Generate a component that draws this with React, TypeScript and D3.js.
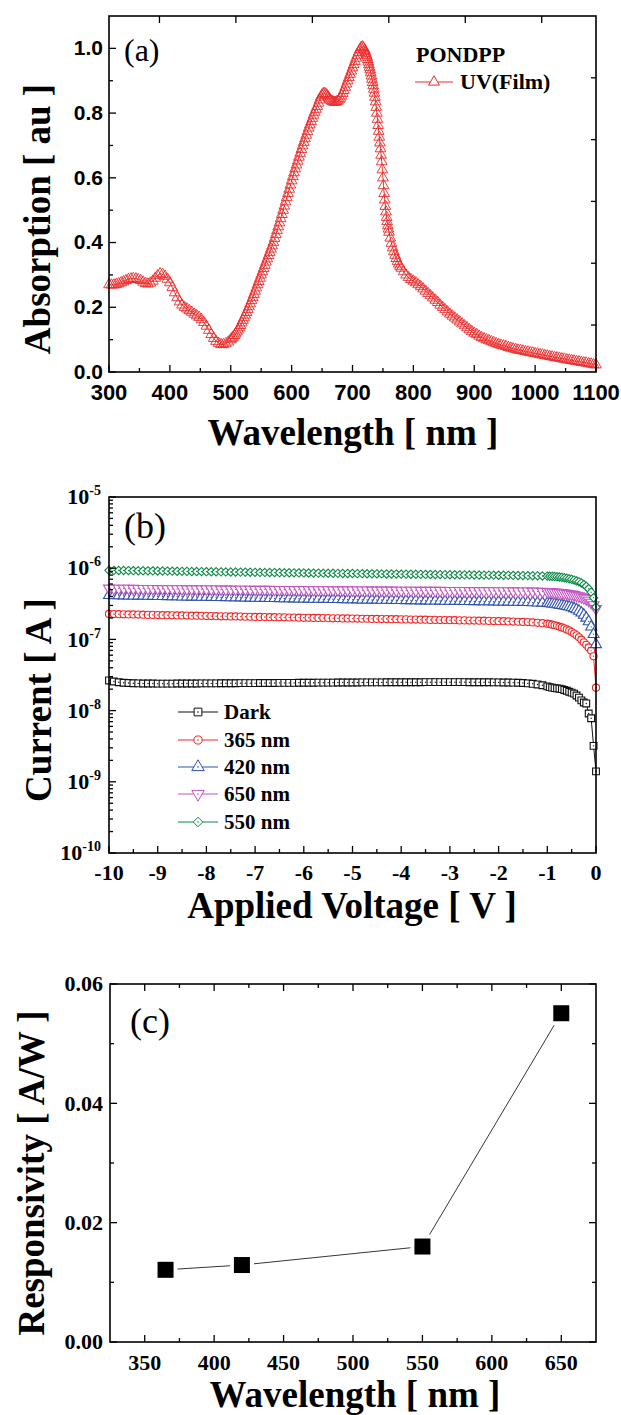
import React from 'react';
import * as d3 from 'd3';

const serif = "'Liberation Serif', 'Times New Roman', serif";
const sans = "'Liberation Sans', Arial, sans-serif";

// ---------- (a) UV absorption of the PONDPP film: [wavelength nm, absorption au]
const uvFilm: [number, number][] = [
  [300, .270], [304, .269], [308, .269], [312, .271], [316, .273], [320, .276], [324, .279], [328, .283], [332, .286], [336, .288],
  [340, .289], [344, .288], [348, .286], [352, .283], [356, .278], [360, .274], [364, .272], [368, .275], [372, .281], [376, .290],
  [380, .298], [384, .304], [388, .302], [392, .296], [396, .287], [400, .276], [404, .261], [408, .245], [412, .230], [416, .217],
  [420, .207], [424, .200], [428, .195], [432, .190], [436, .185], [440, .179], [444, .174], [448, .169], [452, .162], [456, .153],
  [460, .142], [464, .129], [468, .116], [472, .104], [476, .095], [480, .089], [484, .085], [488, .085], [492, .088], [496, .093],
  [500, .100], [502, .104], [504, .108], [506, .113], [508, .118], [510, .124], [512, .130], [514, .137], [516, .144], [518, .152],
  [520, .160], [522, .168], [524, .176], [526, .184], [528, .193], [530, .202], [532, .211], [534, .221], [536, .230], [538, .240],
  [540, .250], [542, .260], [544, .270], [546, .280], [548, .290], [550, .300], [552, .310], [554, .320], [556, .330], [558, .340],
  [560, .350], [562, .360], [564, .370], [566, .380], [568, .390], [570, .401], [572, .413], [574, .425], [576, .437], [578, .449],
  [580, .461], [582, .474], [584, .487], [586, .500], [588, .513], [590, .526], [592, .539], [594, .552], [596, .565], [598, .578],
  [600, .591], [602, .604], [604, .616], [606, .628], [608, .640], [610, .652], [612, .664], [614, .676], [616, .688], [618, .699],
  [620, .710], [622, .721], [624, .732], [626, .743], [628, .754], [630, .764], [632, .774], [634, .784], [636, .794], [638, .803],
  [640, .812], [642, .821], [644, .831], [646, .841], [648, .850], [650, .856], [652, .860], [654, .861], [656, .859], [658, .855],
  [660, .850], [662, .844], [664, .840], [666, .837], [668, .835], [670, .834], [672, .834], [674, .835], [676, .837], [678, .841],
  [680, .846], [682, .853], [684, .861], [686, .870], [688, .880], [690, .890], [692, .900], [694, .910], [696, .920], [698, .930],
  [700, .940], [702, .950], [704, .960], [706, .970], [708, .979], [710, .988], [712, .996], [714, 1.002], [716, 1.005], [718, 1.002],
  [720, .995], [721, .990], [722, .985], [723, .979], [724, .973], [725, .966], [726, .958], [727, .950], [728, .942], [729, .934],
  [730, .925], [731, .915], [732, .905], [733, .895], [734, .885], [735, .874], [736, .862], [737, .849], [738, .835], [739, .818],
  [740, .800], [741, .781], [742, .762], [743, .744], [744, .726], [745, .708], [746, .690], [747, .670], [748, .650], [749, .625],
  [750, .600], [751, .576], [752, .552], [753, .532], [754, .512], [755, .495], [756, .478], [757, .465], [758, .452], [759, .442],
  [760, .432], [762, .414], [764, .398], [766, .384], [768, .372], [770, .361], [772, .351], [774, .342], [776, .334], [778, .327],
  [780, .321], [784, .310], [788, .300], [792, .292], [796, .286], [800, .281], [804, .276], [808, .270], [812, .264], [816, .257],
  [820, .250], [824, .243], [828, .236], [832, .229], [836, .222], [840, .215], [844, .207], [848, .200], [852, .193], [856, .186],
  [860, .179], [864, .173], [868, .167], [872, .161], [876, .155], [880, .149], [884, .143], [888, .137], [892, .131], [896, .125],
  [900, .120], [904, .116], [908, .111], [912, .107], [916, .103], [920, .100], [924, .097], [928, .094], [932, .091], [936, .088],
  [940, .085], [944, .083], [948, .081], [952, .079], [956, .076], [960, .074], [964, .072], [968, .070], [972, .068], [976, .067],
  [980, .065], [984, .063], [988, .062], [992, .060], [996, .059], [1000, .057], [1004, .056], [1008, .054], [1012, .053], [1016, .051],
  [1020, .050], [1024, .048], [1028, .047], [1032, .045], [1036, .044], [1040, .043], [1044, .041], [1048, .040], [1052, .038], [1056, .037],
  [1060, .036], [1064, .034], [1068, .033], [1072, .032], [1076, .030], [1080, .029], [1084, .028], [1088, .026], [1092, .025], [1096, .023],
  [1100, .022],
];
const aXTicks = [300, 400, 500, 600, 700, 800, 900, 1000, 1100];
const aYTicks = [0, 0.2, 0.4, 0.6, 0.8, 1.0];

// ---------- (b) I-V curves, current in nA
// -10.0 .. -1.0 V every 0.1 V, then -0.95 .. 0 V every 0.05 V
const voltFar = d3.range(-100, -9).map((i) => i / 10);
const voltNear = d3.range(-19, 1).map((i) => i / 20);

const darkFar = [
  26.5, 25.6, 25.0, 24.6, 24.4, 24.2, 24.1, 24.0, 24.0, 24.0,
  23.9, 23.9, 23.9, 23.9, 24.0, 24.0, 24.0, 24.0, 24.0, 24.1,
  24.1, 24.1, 24.1, 24.2, 24.2, 24.2, 24.2, 24.3, 24.3, 24.3,
  24.3, 24.4, 24.4, 24.4, 24.4, 24.5, 24.5, 24.5, 24.5, 24.6,
  24.6, 24.6, 24.6, 24.7, 24.7, 24.7, 24.7, 24.8, 24.8, 24.8,
  24.8, 24.8, 24.9, 24.9, 24.9, 24.9, 24.9, 25.0, 25.0, 25.0,
  25.0, 25.0, 25.0, 25.0, 25.0, 25.1, 25.1, 25.1, 25.1, 25.1,
  25.1, 25.1, 25.1, 25.1, 25.0, 25.0, 25.0, 25.0, 25.0, 24.9,
  24.9, 24.8, 24.8, 24.7, 24.6, 24.4, 24.1, 23.8, 23.3, 22.7,
  21.9,
];
const darkNear = [21.4, 21.0, 20.7, 20.5, 20.3, 20.0, 19.5, 19.0, 18.4, 17.9, 17.3, 16.3, 15.2, 13.9, 13.0, 12.6, 9.1, 7.8, 3.2, 1.4];

const uv365Far = [
  228, 227, 226, 225, 224, 224, 223, 222, 221, 221,
  220, 219, 219, 218, 217, 217, 216, 215, 215, 214,
  213, 213, 212, 211, 211, 210, 210, 209, 208, 208,
  207, 207, 206, 205, 205, 204, 204, 203, 203, 202,
  201, 201, 200, 200, 199, 199, 198, 198, 197, 197,
  196, 196, 195, 195, 194, 194, 193, 193, 192, 192,
  191, 191, 190, 190, 189, 189, 188, 188, 187, 187,
  186, 186, 185, 185, 184, 184, 183, 183, 182, 181,
  180, 180, 179, 178, 177, 176, 175, 173, 171, 169,
  166,
];
const uv365Near = [164, 161, 158, 155, 151, 147, 143, 138, 133, 127, 121, 114, 107, 99, 91, 84, 77, 69, 58, 21];

const vis420Far = [
  415, 414, 413, 411, 410, 409, 408, 407, 405, 404,
  403, 402, 401, 400, 399, 397, 396, 395, 394, 393,
  392, 391, 390, 389, 388, 387, 386, 385, 384, 382,
  381, 380, 379, 378, 377, 376, 375, 374, 373, 372,
  371, 370, 369, 368, 367, 367, 366, 365, 364, 363,
  362, 361, 360, 359, 358, 358, 357, 356, 355, 354,
  353, 352, 352, 351, 350, 349, 348, 348, 347, 346,
  345, 344, 344, 343, 342, 341, 341, 340, 339, 338,
  337, 337, 336, 335, 334, 333, 331, 329, 327, 325,
  322,
];
const vis420Near = [319, 316, 313, 309, 305, 301, 297, 292, 286, 280, 272, 262, 250, 236, 220, 200, 178, 150, 118, 85];

const vis650Far = [
  522, 521, 520, 519, 519, 518, 517, 517, 516, 515,
  514, 514, 513, 512, 512, 511, 510, 510, 509, 508,
  508, 507, 507, 506, 505, 505, 504, 504, 503, 503,
  502, 502, 501, 501, 500, 500, 499, 499, 498, 498,
  497, 497, 496, 496, 495, 495, 494, 494, 493, 493,
  492, 492, 491, 491, 490, 490, 490, 489, 489, 488,
  488, 488, 487, 487, 486, 486, 486, 485, 485, 484,
  484, 484, 483, 483, 482, 482, 482, 481, 481, 480,
  480, 479, 479, 478, 477, 476, 475, 474, 472, 470,
  468,
];
const vis650Near = [466, 463, 460, 457, 454, 450, 446, 441, 436, 430, 423, 415, 406, 396, 384, 370, 352, 330, 305, 270];

const vis550Far = [
  935, 932, 930, 928, 926, 924, 922, 920, 918, 916,
  914, 912, 910, 908, 906, 904, 902, 900, 898, 896,
  894, 892, 890, 888, 886, 884, 883, 881, 879, 877,
  875, 873, 872, 870, 868, 866, 865, 863, 861, 859,
  858, 856, 854, 853, 851, 849, 848, 846, 844, 843,
  841, 839, 838, 836, 835, 833, 831, 830, 828, 827,
  825, 824, 822, 821, 819, 818, 816, 815, 813, 812,
  810, 809, 807, 806, 805, 803, 802, 800, 799, 798,
  796, 795, 793, 792, 790, 788, 786, 784, 781, 778,
  774,
];
const vis550Near = [771, 768, 764, 759, 752, 744, 735, 724, 711, 697, 681, 663, 643, 620, 592, 558, 515, 460, 385, 285];

const bSeries = [
  { name: 'Dark', color: '#111111', symbol: 'square', values: [...darkFar, ...darkNear] },
  { name: '365 nm', color: '#f02828', symbol: 'circle', values: [...uv365Far, ...uv365Near] },
  { name: '420 nm', color: '#2f52ad', symbol: 'triangle', values: [...vis420Far, ...vis420Near] },
  { name: '650 nm', color: '#c354c3', symbol: 'triangleDown', values: [...vis650Far, ...vis650Near] },
  { name: '550 nm', color: '#0c8a48', symbol: 'diamond', values: [...vis550Far, ...vis550Near] },
];
const bXTicks = [-10, -9, -8, -7, -6, -5, -4, -3, -2, -1, 0];
const bYExponents = [-10, -9, -8, -7, -6, -5];

// ---------- (c) responsivity
const cWavelength = [365, 420, 550, 650];
const cResponsivity = [0.0121, 0.0129, 0.0160, 0.0551];
const cXTicks = [350, 400, 450, 500, 550, 600, 650];
const cYTicks = [0, 0.02, 0.04, 0.06];

const MAJOR = 7;
const MINOR = 4;
const TICK_W = 1.3;

// marker areas for d3.symbol
const markerSize: Record<string, number> = { square: 46, circle: 40, triangle: 52, triangleDown: 52, diamond: 44 };

const symbolPath = (kind: string, size: number) => {
  const type =
    kind === 'square' ? d3.symbolSquare
      : kind === 'circle' ? d3.symbolCircle
        : kind === 'diamond' ? ((d3 as any).symbolDiamond2 || d3.symbolDiamond)
          : d3.symbolTriangle;
  return d3.symbol().type(type).size(size)() as string;
};
const symbolRotate = (kind: string) => (kind === 'triangleDown' ? ' rotate(180)' : '');

const Frame = ({ x0, x1, y0, y1 }: any) => (
  <rect x={x0} y={y0} width={x1 - x0} height={y1 - y0} fill="none" stroke="#000" strokeWidth={1.6} />
);

// ticks drawn into the frame, along a horizontal edge
const hTicks = (vals: number[], sc: (v: number) => number, yEdge: number, dir: number, len: number, key: string) =>
  vals.map((v) => (
    <line key={key + v} x1={sc(v)} x2={sc(v)} y1={yEdge} y2={yEdge + dir * len} stroke="#000" strokeWidth={TICK_W} />
  ));
// ticks along a vertical edge
const vTicks = (vals: number[], sc: (v: number) => number, xEdge: number, dir: number, len: number, key: string) =>
  vals.map((v) => (
    <line key={key + v} y1={sc(v)} y2={sc(v)} x1={xEdge} x2={xEdge + dir * len} stroke="#000" strokeWidth={TICK_W} />
  ));

function PanelA() {
  const red = '#ec2c2c';
  const x = d3.scaleLinear().domain([300, 1100]).range([109, 596]);
  const y = d3.scaleLinear().domain([0, 1.1]).range([372, 16]);
  // the opposite axes of this layer are not linked to the data scales
  const xTop = d3.scaleLinear().domain([-0.66, 5.71]).range([109, 596]);
  const yRight = d3.scaleLinear().domain([0, 5.76]).range([16, 372]);
  const [l, r] = x.range();
  const [b, t] = y.range();
  const line = d3.line<[number, number]>().x((d) => x(d[0])).y((d) => y(d[1]));
  const tri = symbolPath('triangle', 50);
  const xMinor = d3.range(350, 1100, 100);
  const yMinor = [0.1, 0.3, 0.5, 0.7, 0.9];
  const fmt = d3.format('.1f');
  return (
    <g>
      <path d={line(uvFilm) as string} fill="none" stroke={red} strokeWidth={1} />
      {uvFilm.map((d, i) => (
        <path key={i} d={tri} transform={`translate(${x(d[0])},${y(d[1])})`} fill="none" stroke={red} strokeWidth={0.9} />
      ))}
      <Frame x0={l} x1={r} y0={t} y1={b} />
      {hTicks(aXTicks, x, b, -1, MAJOR, 'bx')}
      {hTicks(xMinor, x, b, -1, MINOR, 'bm')}
      {vTicks(aYTicks, y, l, 1, MAJOR, 'ly')}
      {vTicks(yMinor, y, l, 1, MINOR, 'lm')}
      {hTicks([0, 1, 2, 3, 4, 5], xTop, t, 1, MAJOR, 'tx')}
      {vTicks([1, 2, 3, 4, 5], yRight, r, -1, 5, 'ry')}
      {aXTicks.map((v) => (
        <text key={v} x={x(v)} y={400} textAnchor="middle" fontFamily={sans} fontWeight="bold" fontSize={22}>{v}</text>
      ))}
      {aYTicks.map((v) => (
        <text key={v} x={103} y={y(v)} dy="0.33em" textAnchor="end" fontFamily={sans} fontWeight="bold" fontSize={21}>{fmt(v)}</text>
      ))}
      <text x={353} y={445} textAnchor="middle" fontFamily={serif} fontWeight="bold" fontSize={37}>Wavelength [ nm ]</text>
      <text transform="translate(50,219) rotate(-90)" textAnchor="middle" fontFamily={serif} fontWeight="bold" fontSize={37}>Absorption [ au ]</text>
      <text x={124} y={61} fontFamily={serif} fontSize={32}>(a)</text>
      <text x={416} y={62} fontFamily={serif} fontWeight="bold" fontSize={22}>PONDPP</text>
      <line x1={415} x2={453} y1={82} y2={82} stroke={red} strokeWidth={1} />
      <path d={symbolPath('triangle', 50)} transform="translate(434,82)" fill="#fff" stroke={red} strokeWidth={1} />
      <text x={460} y={89} fontFamily={serif} fontWeight="bold" fontSize={22}>UV(Film)</text>
    </g>
  );
}

function PanelB() {
  const x = d3.scaleLinear().domain([-10, 0]).range([109, 596]);
  const y = d3.scaleLog().domain([1e-10, 1e-5]).range([853, 497]);
  const [l, r] = x.range();
  const [b, t] = y.range();
  const volts = [...voltFar, ...voltNear];
  const line = d3.line<[number, number]>().x((d) => x(d[0])).y((d) => y(d[1]));
  const xMinor = d3.range(-9.5, 0, 1);
  const yMinor: number[] = [];
  bYExponents.slice(0, -1).forEach((e) => {
    for (let m = 2; m <= 9; m++) yMinor.push(m * 10 ** e);
  });
  const legendY = [712, 740, 767, 794, 822];
  return (
    <g>
      {bSeries.map((s) => {
        const pts: [number, number][] = volts.map((v, i) => [v, s.values[i] * 1e-9]);
        const sym = symbolPath(s.symbol, markerSize[s.symbol]);
        return (
          <g key={s.name}>
            <path d={line(pts) as string} fill="none" stroke={s.color} strokeWidth={1} />
            {pts.map((p, i) => (
              <g key={i} transform={`translate(${x(p[0])},${y(p[1])})${symbolRotate(s.symbol)}`}>
                <path d={sym} fill="#fff" stroke={s.color} strokeWidth={1.1} />
                <circle r={0.7} fill={s.color} />
              </g>
            ))}
          </g>
        );
      })}
      <Frame x0={l} x1={r} y0={t} y1={b} />
      {hTicks(bXTicks, x, b, -1, MAJOR, 'bx')}
      {hTicks(xMinor, x, b, -1, MINOR, 'bm')}
      {vTicks(bYExponents.map((e) => 10 ** e), y, l, 1, MAJOR, 'ly')}
      {vTicks(yMinor, y, l, 1, MINOR, 'lm')}
      {bXTicks.map((v) => (
        <text key={v} x={x(v)} y={880} textAnchor="middle" fontFamily={serif} fontWeight="bold" fontSize={22}>{v}</text>
      ))}
      {bYExponents.map((e) => (
        <text key={e} x={101} y={y(10 ** e)} dy="0.33em" textAnchor="end" fontFamily={serif} fontWeight="bold" fontSize={22}>
          10<tspan fontSize={14} dy={-9}>{e}</tspan>
        </text>
      ))}
      {bSeries.map((s, i) => (
        <g key={s.name}>
          <line x1={178} x2={218} y1={legendY[i]} y2={legendY[i]} stroke={s.color} strokeWidth={1} />
          <g transform={`translate(198,${legendY[i]})${symbolRotate(s.symbol)}`}>
            <path d={symbolPath(s.symbol, markerSize[s.symbol] * 1.3)} fill="#fff" stroke={s.color} strokeWidth={1} />
            <circle r={0.8} fill={s.color} />
          </g>
          <text x={224} y={legendY[i] + 7} fontFamily={serif} fontWeight="bold" fontSize={21}>{s.name}</text>
        </g>
      ))}
      <text x={352} y={918} textAnchor="middle" fontFamily={serif} fontWeight="bold" fontSize={37}>Applied Voltage [ V ]</text>
      <text transform="translate(51,700) rotate(-90)" textAnchor="middle" fontFamily={serif} fontWeight="bold" fontSize={37}>Current [ A ]</text>
      <text x={124} y={538} fontFamily={serif} fontSize={36}>(b)</text>
    </g>
  );
}

function PanelC() {
  const x = d3.scaleLinear().domain([325, 675]).range([110, 596]);
  const y = d3.scaleLinear().domain([0, 0.06]).range([1342, 984]);
  const [l, r] = x.range();
  const [b, t] = y.range();
  const pts: [number, number][] = cWavelength.map((w, i) => [w, cResponsivity[i]]);
  const line = d3.line<[number, number]>().x((d) => x(d[0])).y((d) => y(d[1]));
  const xMinor = d3.range(375, 675, 50);
  const yMinor = [0.01, 0.03, 0.05];
  const fmt = d3.format('.2f');
  return (
    <g>
      <path d={line(pts) as string} fill="none" stroke="#000" strokeWidth={0.8} />
      {pts.map((p, i) => (
        <g key={i}>
          <rect x={x(p[0]) - 12} y={y(p[1]) - 12} width={24} height={24} fill="#fff" />
          <rect x={x(p[0]) - 8} y={y(p[1]) - 8} width={16} height={16} fill="#000" />
        </g>
      ))}
      <Frame x0={l} x1={r} y0={t} y1={b} />
      {hTicks(cXTicks, x, b, -1, MAJOR, 'bx')}
      {hTicks(xMinor, x, b, -1, MINOR, 'bm')}
      {hTicks(cXTicks, x, t, 1, MAJOR, 'tx')}
      {hTicks(xMinor, x, t, 1, MINOR, 'tm')}
      {vTicks(cYTicks, y, l, 1, MAJOR, 'ly')}
      {vTicks(yMinor, y, l, 1, MINOR, 'lm')}
      {vTicks(cYTicks, y, r, -1, MAJOR, 'ry')}
      {vTicks(yMinor, y, r, -1, MINOR, 'rm')}
      {cXTicks.map((v) => (
        <text key={v} x={x(v)} y={1370} textAnchor="middle" fontFamily={serif} fontWeight="bold" fontSize={22}>{v}</text>
      ))}
      {cYTicks.map((v) => (
        <text key={v} x={103} y={y(v)} dy="0.34em" textAnchor="end" fontFamily={serif} fontWeight="bold" fontSize={22}>{fmt(v)}</text>
      ))}
      <text x={355} y={1407} textAnchor="middle" fontFamily={serif} fontWeight="bold" fontSize={37}>Wavelength [ nm ]</text>
      <text transform="translate(44,1173) rotate(-90)" textAnchor="middle" fontFamily={serif} fontWeight="bold" fontSize={37}>Responsivity [ A/W ]</text>
      <text x={130} y={1033} fontFamily={serif} fontSize={36}>(c)</text>
    </g>
  );
}

export default function App() {
  return (
    <svg
      width={621}
      height={1415}
      viewBox="0 0 621 1415"
      style={{ position: 'absolute', left: 0, top: 0, background: '#fff' }}
    >
      <PanelA />
      <PanelB />
      <PanelC />
    </svg>
  );
}
